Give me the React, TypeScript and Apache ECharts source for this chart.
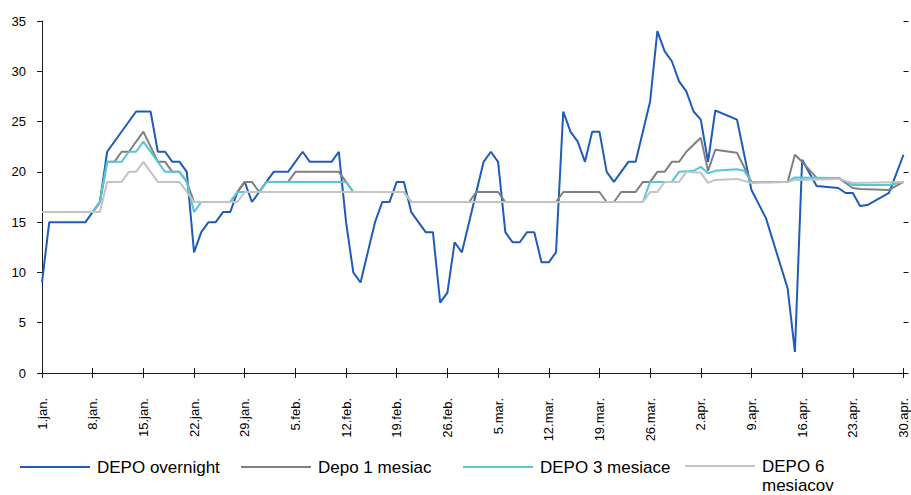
import React, { useEffect, useRef } from "react";
import * as echarts from "echarts";

// x = day index counted from 1.jan. (0) to 30.apr. (119)
const tickLabels = [
  "1.jan.", "8.jan.", "15.jan.", "22.jan.", "29.jan.", "5.feb.", "12.feb.", "19.feb.", "26.feb.",
  "5.mar.", "12.mar.", "19.mar.", "26.mar.", "2.apr.", "9.apr.", "16.apr.", "23.apr.", "30.apr.",
];

const seriesNames = ["DEPO overnight", "Depo 1 mesiac", "DEPO 3 mesiace", "DEPO 6 mesiacov"];

const depoOvernight: [number, number][] = [
  [0, 9], [1, 15], [6, 15], [7, 16], [8, 17], [9, 22], [13, 26], [15, 26], [16, 22], [17, 22],
  [18, 21], [19, 21], [20, 20], [21, 12], [22, 14], [23, 15], [24, 15], [25, 16], [26, 16], [27, 18],
  [28, 19], [29, 17], [30, 18], [31, 19], [32, 20], [34, 20], [36, 22], [37, 21], [40, 21], [41, 22],
  [42, 15], [43, 10], [44, 9], [46, 15], [47, 17], [48, 17], [49, 19], [50, 19], [51, 16], [53, 14],
  [54, 14], [55, 7], [56, 8], [57, 13], [58, 12], [61, 21], [62, 22], [63, 21], [64, 14], [65, 13],
  [66, 13], [67, 14], [68, 14], [69, 11], [70, 11], [71, 12], [72, 26], [73, 24], [74, 23], [75, 21],
  [76, 24], [77, 24], [78, 20], [79, 19], [81, 21], [82, 21], [84, 27], [85, 34], [86, 32], [87, 31],
  [88, 29], [89, 28], [90, 26], [91, 25.2], [92, 21], [93, 26.1], [96, 25.2], [98, 18.2], [100, 15.4],
  [103, 8.4], [104, 2.1], [105, 21.2], [107, 18.6], [110, 18.4], [111, 17.9], [112, 17.9], [113, 16.6],
  [114, 16.7], [117, 17.9], [119, 21.7],
];

const depo1m: [number, number][] = [
  [0, 16], [7, 16], [8, 17], [9, 21], [10, 21], [11, 22], [12, 22], [14, 24], [16, 21], [17, 21],
  [18, 20], [19, 20], [20, 19], [21, 17], [26, 17], [27, 18], [28, 19], [29, 19], [30, 18], [31, 19],
  [34, 19], [35, 20], [41, 20], [42, 19], [43, 18], [50, 18], [51, 17], [59, 17], [60, 18], [63, 18],
  [64, 17], [71, 17], [72, 18], [77, 18], [78, 17], [79, 17], [80, 18], [82, 18], [83, 19], [84, 19],
  [85, 20], [86, 20], [87, 21], [88, 21], [89, 22], [91, 23.4], [92, 20.1], [93, 22.2], [96, 21.9],
  [98, 19], [103, 19], [104, 21.7], [105, 21], [107, 19.4], [110, 19.4], [112, 18.4], [113, 18.3],
  [117, 18.2], [119, 19],
];

const depo3m: [number, number][] = [
  [0, 16], [7, 16], [8, 17], [9, 21], [11, 21], [12, 22], [13, 22], [14, 23], [17, 20], [19, 20],
  [20, 19], [21, 16], [22, 17], [26, 17], [27, 18], [30, 18], [31, 19], [42, 19], [43, 18], [50, 18],
  [51, 17], [83, 17], [84, 19], [87, 19], [88, 20], [90, 20.1], [91, 20.5], [92, 19.85], [93, 20.1],
  [96, 20.25], [97, 20.1], [98, 19], [103, 19], [104, 19.45], [110, 19.4], [112, 18.7], [117, 18.7],
  [119, 19],
];

const depo6m: [number, number][] = [
  [0, 16], [8, 16], [9, 19], [11, 19], [12, 20], [13, 20], [14, 21], [16, 19], [19, 19], [20, 18],
  [21, 17], [27, 17], [28, 18], [50, 18], [51, 17], [83, 17], [84, 18], [85, 18], [86, 19], [88, 19],
  [89, 20], [91, 19.9], [92, 18.9], [93, 19.2], [96, 19.3], [98, 18.9], [103, 19], [104, 19.2],
  [110, 19.3], [112, 18.9], [119, 19],
];

const seriesData = [depoOvernight, depo1m, depo3m, depo6m];
const colors = ["#1f5cb5", "#808080", "#56c6d8", "#c3c3c3"];
const legendLefts = [20, 241, 463, 685];

const FONT = "'Liberation Sans', Arial, sans-serif";

export default function App() {
  const ref = useRef<HTMLDivElement>(null);

  useEffect(() => {
    if (!ref.current) return;
    const chart = echarts.init(ref.current, undefined, { renderer: "svg" });
    const gridLeft = 42;
    const gridRight = 7.5;
    const gridTop = 21;
    const gridBottom = 122;
    const gridW = 911 - gridLeft - gridRight;
    const gridH = 495 - gridTop - gridBottom;
    const lineH = 19;

    chart.setOption({
      animation: false,
      backgroundColor: "#ffffff",
      grid: { left: gridLeft, right: gridRight, top: gridTop, bottom: gridBottom, containLabel: false },
      xAxis: [
        {
          type: "value",
          min: 0,
          max: 119,
          interval: 7,
          position: "bottom",
          axisLine: { show: true, lineStyle: { color: "#1a1a1a", width: 1 } },
          axisTick: { show: true, length: 5, inside: false, lineStyle: { color: "#1a1a1a" } },
          splitLine: { show: false },
          axisLabel: {
            rotate: 90,
            margin: 25,
            fontSize: 13,
            color: "#000",
            fontFamily: FONT,
            formatter: (v: number) => tickLabels[Math.round(v / 7)] ?? "",
          },
        },
        {
          type: "value",
          min: 0,
          max: 119,
          interval: 7,
          position: "top",
          offset: -gridH,
          axisLine: { show: false },
          axisTick: { show: true, length: 5, inside: false, lineStyle: { color: "#1a1a1a" } },
          splitLine: { show: false },
          axisLabel: { show: false },
        },
      ],
      yAxis: [
        {
          type: "value",
          min: 0,
          max: 35,
          interval: 5,
          position: "left",
          axisLine: { show: true, lineStyle: { color: "#1a1a1a", width: 1 } },
          axisTick: { show: true, length: 5, inside: false, lineStyle: { color: "#1a1a1a" } },
          splitLine: { show: false },
          axisLabel: { margin: 16, fontSize: 13, color: "#000", fontFamily: FONT },
        },
        {
          type: "value",
          min: 0,
          max: 35,
          interval: 5,
          position: "right",
          offset: -gridW,
          axisLine: { show: false },
          axisTick: { show: true, length: 5, inside: false, lineStyle: { color: "#1a1a1a" } },
          splitLine: { show: false },
          axisLabel: { show: false },
        },
      ],
      legend: seriesNames.map((name, i) => ({
        data: [{ name, icon: "rect", itemStyle: { color: colors[i] } }],
        left: legendLefts[i],
        top: i === 3 ? 468 - 1 - lineH * 1.5 - 1 : 468 - 1 - lineH * 0.5,
        orient: "horizontal",
        padding: 0,
        itemWidth: 70,
        itemHeight: 2,
        selectedMode: false,
        textStyle: { fontSize: 17, color: "#000", fontFamily: FONT, lineHeight: lineH, padding: [0, 0, 0, 2] },
        formatter: i === 3 ? () => "\u00a0\nDEPO 6\nmesiacov" : undefined,
      })),
      series: seriesNames.map((name, i) => ({
        name,
        type: "line",
        xAxisIndex: 0,
        yAxisIndex: 0,
        data: seriesData[i],
        symbol: "none",
        showSymbol: false,
        color: colors[i],
        lineStyle: { color: colors[i], width: 2 },
        z: 2 + i,
      })),
    });

    return () => chart.dispose();
  }, []);

  return (
    <div
      ref={ref}
      style={{ position: "fixed", left: 0, top: 0, width: 911, height: 495, background: "#fff" }}
    />
  );
}
